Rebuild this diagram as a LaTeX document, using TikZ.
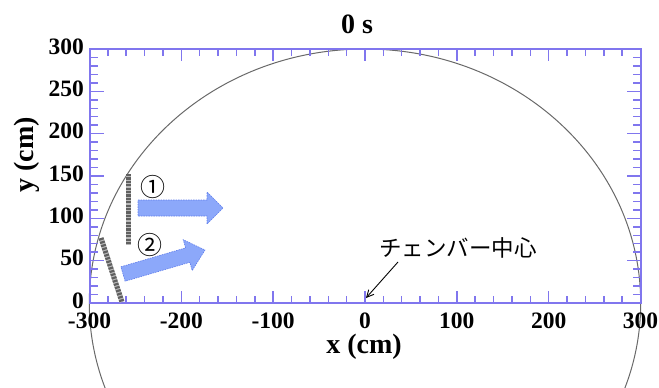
\documentclass[tikz,border=0pt]{standalone}
\usepackage{fontspec}
\setmainfont{Liberation Serif}
\newfontfamily\cjk{Noto Sans CJK JP}
\usetikzlibrary{arrows.meta}
\definecolor{axc}{RGB}{128,118,238}
\definecolor{arrfill}{RGB}{140,168,250}
\definecolor{arrline}{RGB}{95,125,235}
\definecolor{ringc}{RGB}{105,105,105}
\begin{document}
\begin{tikzpicture}[x=1pt,y=-1pt,
  ticklab/.style={font=\fontsize{23.5}{24}\selectfont\bfseries, inner sep=0pt},
  axtitle/.style={font=\fontsize{28}{28}\selectfont\bfseries, inner sep=0pt},
  axline/.style={draw=axc, line width=2pt},
  tickline/.style={draw=axc, line width=1.5pt},
  barbase/.style={draw=gray!55, line width=5pt},
  bardash/.style={draw=gray!75!black, line width=5pt, dash pattern=on 2.2pt off 1.2pt},
  blockarrow/.style={fill=arrfill, draw=arrline, line width=0.6pt, dashed, dash pattern=on 1.5pt off 1pt},
  circnum/.style={font=\cjk\fontsize{25}{25}\selectfont, inner sep=0pt},
  jptext/.style={font=\cjk\fontsize{22.5}{22.5}\selectfont, inner sep=0pt},
  ptr/.style={draw=black, line width=0.9pt, -{Straight Barb[length=7pt,width=7pt]}}]
\useasboundingbox (0,0) rectangle (659,388);
\clip (0,0) rectangle (659,388);
% chamber wall
\draw[ringc, line width=1pt] (365,303) ellipse [x radius=275.7, y radius=254];
% ticks
\foreach \v in {-300,-280,...,300}{
  \pgfmathsetmacro\px{365+0.91833*\v}
  \pgfmathsetmacro\tl{mod(\v,100)==0 ? 12 : 7}
  \draw[tickline] (\px,303) -- ++(0,-\tl);
  \draw[tickline] (\px,49) -- ++(0,\tl);
}
\foreach \v in {0,10,...,300}{
  \pgfmathsetmacro\py{303-0.84667*\v}
  \pgfmathsetmacro\tl{mod(\v,50)==0 ? 14 : 8}
  \draw[tickline] (89.5,\py) -- ++(\tl,0);
  \draw[tickline] (640.5,\py) -- ++(-\tl,0);
}
\draw[axline] (89.5,49) rectangle (640.5,303);
% tick labels
\foreach \v in {-300,-200,-100,0,100,200,300}{
  \pgfmathsetmacro\px{365+0.91833*\v}
  \node[ticklab] (xl\v) at (\px,321) {\v};
}
\foreach \v in {0,50,...,300}{
  \pgfmathsetmacro\py{300.5-0.84667*\v}
  \node[ticklab, anchor=east] (yl\v) at (84,\py) {\v};
}
% titles
\node[axtitle] (title) at (357,24) {0 s};
\node[axtitle] (xt) at (364,347) {x (cm)};
\node[axtitle, rotate=90] (yt) at (27,155) {y (cm)};
% objects
\coordinate (b1a) at (128,174);
\coordinate (b1b) at (128,245);
\coordinate (b2a) at (101,238);
\coordinate (b2b) at (122,302);
\draw[barbase] (b1a) -- (b1b);
\draw[bardash] (b1a) -- (b1b);
\draw[barbase] (b2a) -- (b2b);
\draw[bardash] (b2a) -- (b2b);
% block arrows
\draw[blockarrow] (138,200) -- (207,200) -- (207,192) -- (223,208) -- (207,224) -- (207,216) -- (138,216) -- cycle;
\draw[blockarrow] (120.9,266.8) -- (185.6,247.9) -- (183.2,239.7) -- (205,250) -- (192.2,270.5) -- (189.8,262.3) -- (125.1,281.2) -- cycle;
\node[circnum] (n1) at (153,187) {①};
\node[circnum] (n2) at (150,245) {②};
% chamber centre label
\node[jptext] (lbl) at (458,248) {チェンバー中心};
\coordinate (as) at (398,262);
\coordinate (ctr) at (366,298);
\draw[ptr] (as) -- (ctr);
\end{tikzpicture}
\end{document}
